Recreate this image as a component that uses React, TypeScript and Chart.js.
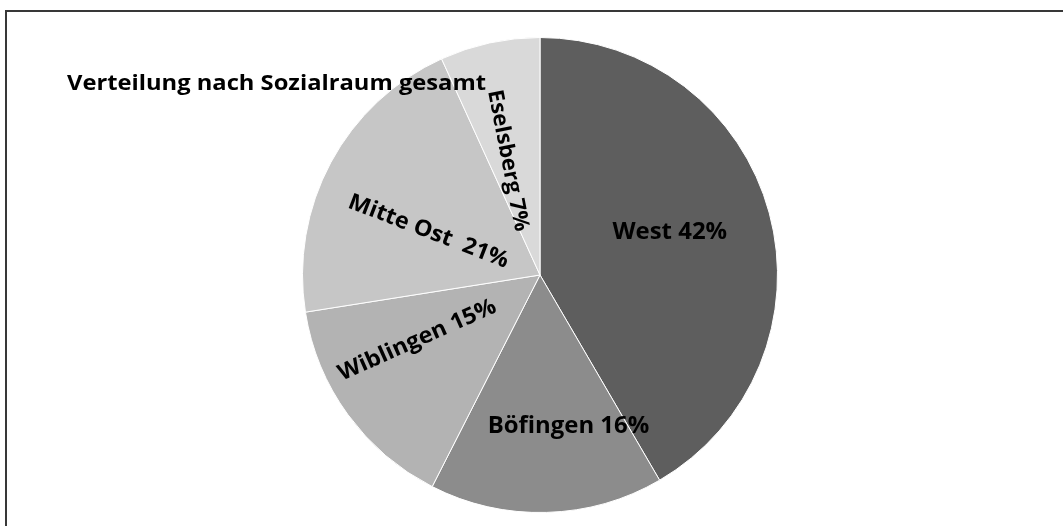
import React, { useEffect, useRef } from "react";
import { Chart, registerables } from "chart.js";

Chart.register(...registerables);

const categories = ["West", "Böfingen", "Wiblingen", "Mitte Ost", "Eselsberg"];
const values = [41.6, 15.9, 15.0, 20.7, 6.8];
const labelTexts = ["West 42%", "Böfingen 16%", "Wiblingen 15%", "Mitte Ost  21%", "Eselsberg 7%"];
const title = "Verteilung nach Sozialraum gesamt";

const colors = ["#5e5e5e", "#8c8c8c", "#b3b3b3", "#c6c6c6", "#d9d9d9"];
// label layout: radial fraction, angle offset from slice mid (deg), text rotation (deg), font size
const labelLayout = [
  { r: 0.575, off: -3, rot: 0, size: 23 },
  { r: 0.65, off: -9, rot: 0, size: 23 },
  { r: 0.585, off: 8, rot: -24, size: 22.5 },
  { r: 0.504, off: -7, rot: 21, size: 22.5 },
  { r: 0.5, off: -3.5, rot: 79, size: 21.5 },
];

const FONT = "'Open Sans', 'DejaVu Sans', sans-serif";

const decorPlugin = {
  id: "decor",
  beforeDraw(chart: any) {
    const ctx = chart.ctx;
    ctx.save();
    ctx.fillStyle = "#ffffff";
    ctx.fillRect(0, 0, chart.width, chart.height);
    ctx.fillStyle = "#383838";
    ctx.fillRect(5, 10, chart.width - 5, 2);
    ctx.fillRect(5, 10, 2, chart.height - 10);
    ctx.restore();
  },
  afterDraw(chart: any) {
    const ctx = chart.ctx;
    const meta = chart.getDatasetMeta(0);
    ctx.save();
    ctx.fillStyle = "#000000";
    ctx.textBaseline = "middle";
    ctx.textAlign = "center";
    meta.data.forEach((arc: any, i: number) => {
      const p = arc.getProps(["x", "y", "startAngle", "endAngle", "outerRadius"], true);
      const lay = labelLayout[i];
      const mid = (p.startAngle + p.endAngle) / 2 + (lay.off * Math.PI) / 180;
      const rr = p.outerRadius * lay.r;
      const x = p.x + Math.cos(mid) * rr;
      const y = p.y + Math.sin(mid) * rr;
      ctx.save();
      ctx.translate(x, y);
      ctx.rotate((lay.rot * Math.PI) / 180);
      ctx.scale(1.04, 1);
      ctx.font = `bold ${lay.size}px ${FONT}`;
      ctx.fillText(labelTexts[i], 0, 0);
      ctx.restore();
    });
    ctx.save();
    ctx.font = `bold 21px ${FONT}`;
    ctx.textAlign = "left";
    ctx.textBaseline = "alphabetic";
    const w = ctx.measureText(title).width;
    ctx.translate(67, 90);
    ctx.scale(419 / w, 1);
    ctx.fillText(title, 0, 0);
    ctx.restore();
    ctx.restore();
  },
};

export default function App() {
  const ref = useRef<HTMLCanvasElement>(null);
  useEffect(() => {
    if (!ref.current) return;
    const chart = new Chart(ref.current, {
      type: "pie",
      data: {
        labels: categories,
        datasets: [
          {
            data: values,
            backgroundColor: colors,
            borderColor: "#ffffff",
            borderWidth: 1,
          },
        ],
      },
      options: {
        responsive: false,
        animation: false,
        layout: { padding: { top: 37, bottom: 13, left: 302, right: 285 } },
        plugins: {
          legend: { display: false },
          tooltip: { enabled: false },
          title: { display: false },
        },
      },
      plugins: [decorPlugin],
    });
    return () => chart.destroy();
  }, []);
  return (
    <div style={{ position: "absolute", left: 0, top: 0, width: 1063, height: 526 }}>
      <canvas ref={ref} width={1063} height={526} style={{ width: 1063, height: 526, display: "block" }} />
    </div>
  );
}
